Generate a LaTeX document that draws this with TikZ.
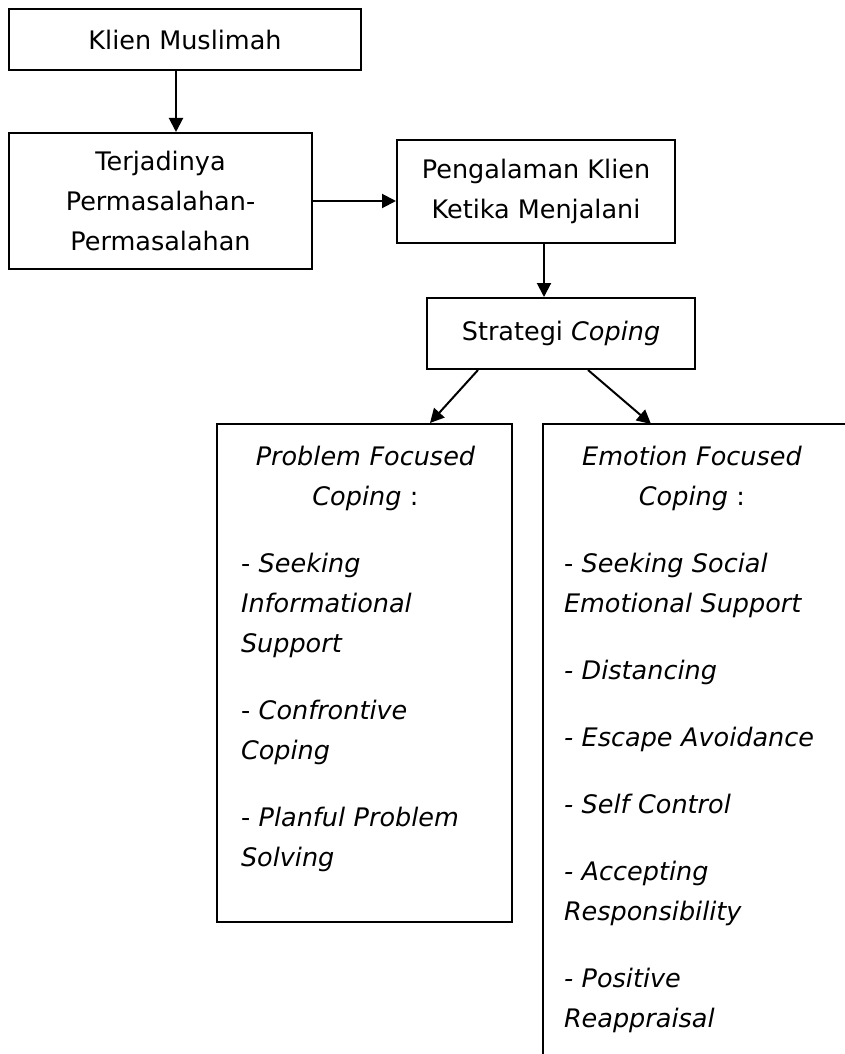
\documentclass[tikz,border=0pt]{standalone}
\usepackage{fontspec}
\setmainfont{DejaVu Sans}
\usetikzlibrary{arrows.meta}

\begin{document}
\begin{tikzpicture}[x=0.5pt,y=-0.5pt,line width=1pt,
	box/.style={draw,inner sep=0pt,align=center,
		font=\fontsize{12.75}{20}\selectfont},
	list/.style={anchor=north west,inner sep=0pt,align=left,
		font=\fontsize{12.75}{20}\selectfont},
	arr/.style={-{Triangle[length=7pt,width=7pt]}}]
	\useasboundingbox (0,0) rectangle (845,1054);
	
	\node[box,minimum width=176pt,minimum height=30.5pt] (km) 
	at (185,39.5) {Klien Muslimah};
	
	\node[box,minimum width=151.5pt,minimum height=68pt] (tj) 
	at (160.5,201) {Terjadinya\\Permasalahan-\\Permasalahan};
	
	\node[box,minimum width=139pt,minimum height=51.5pt] (pk) 
	at (536,191.5) {Pengalaman Klien\\Ketika Menjalani};
	
	\node[box,minimum width=134pt,minimum height=35.5pt] (sc) 
	at (561,333.5) {Strategi \textit{Coping}};
	
	% problem focused box
	\node[draw,minimum width=147.5pt,minimum height=249pt] (pf) 
	at (364.5,673) {};
	\node[list,text width=124.5pt] (pftext) at (240,445.5) {%
		{\centering\textit{Problem Focused}\\\textit{Coping} :\par}
		\vspace{13.5pt}
		- \textit{Seeking}\\\textit{Informational}\\\textit{Support}\par
		\vspace{13.5pt}
		- \textit{Confrontive}\\\textit{Coping}\par
		\vspace{13.5pt}
		- \textit{Planful Problem}\\\textit{Solving}\par};
	
	% emotion focused box, cut off by the page
	\draw (845,424) -- (543,424) -- (543,1054);
	\coordinate (efin) at (651,424);
	\node[list,text width=128pt] (eftext) at (563,445.5) {%
		{\centering\textit{Emotion Focused}\\\textit{Coping} :\par}
		\vspace{13.5pt}
		- \textit{Seeking Social}\\\textit{Emotional Support}\par
		\vspace{13.5pt}
		\textit{- Distancing}\par
		\vspace{13.5pt}
		\textit{- Escape Avoidance}\par
		\vspace{13.5pt}
		\textit{- Self Control}\par
		\vspace{13.5pt}
		\textit{- Accepting}\\\textit{Responsibility}\par
		\vspace{13.5pt}
		\textit{- Positive}\\\textit{Reappraisal}\par};
	
	\draw[arr] ([xshift=-4.5pt]km.south) -- ([xshift=7.75pt]tj.north);
	\draw[arr] (tj.east) -- (tj.east -| pk.west);
	\draw[arr] ([xshift=4pt]pk.south) -- ([xshift=-8.5pt]sc.north);
	\draw[arr] ([xshift=-41.5pt]sc.south) -- ([xshift=32.75pt]pf.north);
	\draw[arr] ([xshift=13.5pt]sc.south) -- (efin);
\end{tikzpicture}
\end{document}
